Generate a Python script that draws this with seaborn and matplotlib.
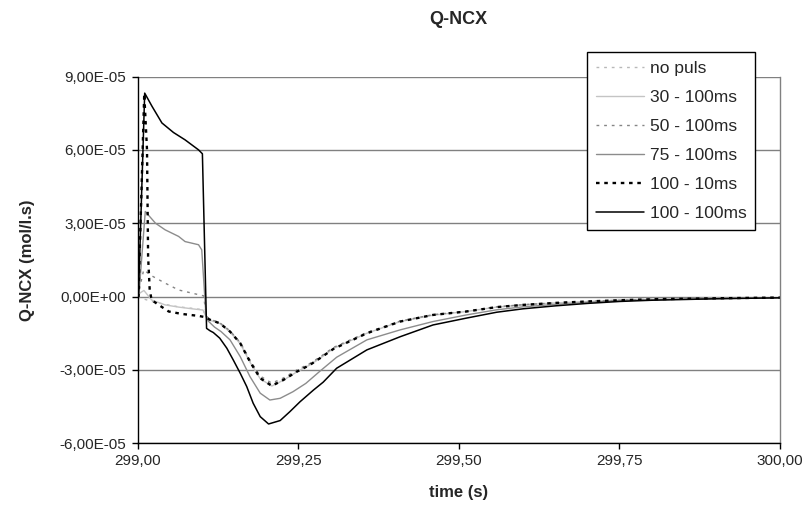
import matplotlib
matplotlib.use("Agg")
import matplotlib.pyplot as plt
import seaborn as sns
import pandas as pd
from matplotlib.ticker import FuncFormatter, MultipleLocator

# values, Q-NCX in units of 1e-5 mol/l.s
t_nopuls = [299.000, 299.004, 299.010, 299.022, 299.043, 299.064, 299.085, 299.102, 299.108,
            299.113, 299.128, 299.144, 299.160, 299.175, 299.191, 299.209, 299.227, 299.248,
            299.268, 299.284, 299.305, 299.357, 299.409, 299.460, 299.512, 299.559, 299.600,
            299.650, 299.700, 299.750, 299.800, 299.900, 300.000]
v_nopuls = [0.00, -0.05, -0.10, -0.20, -0.32, -0.42, -0.48, -0.54, -0.88,
            -0.95, -1.08, -1.42, -1.90, -2.63, -3.30, -3.60, -3.38, -3.04,
            -2.77, -2.50, -2.10, -1.48, -1.01, -0.75, -0.61, -0.43, -0.34,
            -0.26, -0.20, -0.15, -0.11, -0.07, -0.04]

t_30 = [299.000, 299.004, 299.010, 299.022, 299.043, 299.064, 299.085, 299.102, 299.108,
        299.113, 299.128, 299.144, 299.160, 299.175, 299.191, 299.209, 299.227, 299.248,
        299.268, 299.284, 299.305, 299.357, 299.409, 299.460, 299.512, 299.559, 299.600,
        299.650, 299.700, 299.750, 299.800, 299.900, 300.000]
v_30 = [0.00, 0.15, 0.25, -0.14, -0.34, -0.43, -0.50, -0.55, -0.90,
        -0.97, -1.10, -1.45, -1.93, -2.68, -3.36, -3.66, -3.42, -3.08,
        -2.80, -2.53, -2.12, -1.50, -1.02, -0.76, -0.61, -0.43, -0.34,
        -0.26, -0.20, -0.15, -0.11, -0.07, -0.04]

t_50 = [299.000, 299.003, 299.0096, 299.022, 299.043, 299.064, 299.085, 299.103, 299.107,
        299.113, 299.128, 299.144, 299.160, 299.175, 299.191, 299.209, 299.227, 299.248,
        299.268, 299.284, 299.305, 299.357, 299.409, 299.460, 299.512, 299.559, 299.600,
        299.650, 299.700, 299.750, 299.800, 299.900, 300.000]
v_50 = [0.00, 0.30, 1.09, 0.85, 0.55, 0.27, 0.14, 0.03, -0.80,
        -0.93, -1.07, -1.40, -1.88, -2.60, -3.25, -3.54, -3.33, -3.00,
        -2.74, -2.47, -2.08, -1.47, -1.00, -0.74, -0.60, -0.42, -0.33,
        -0.26, -0.20, -0.15, -0.11, -0.07, -0.04]

t_75 = [299.000, 299.002, 299.0121, 299.028, 299.043, 299.064, 299.074, 299.095, 299.100,
        299.1065, 299.110, 299.120, 299.130, 299.144, 299.160, 299.175, 299.191, 299.206,
        299.222, 299.242, 299.262, 299.284, 299.310, 299.357, 299.409, 299.460, 299.512,
        299.559, 299.600, 299.650, 299.700, 299.750, 299.800, 299.900, 300.000]
v_75 = [0.00, 0.00, 3.48, 3.00, 2.73, 2.46, 2.25, 2.12, 1.91,
        -0.75, -1.00, -1.25, -1.43, -1.77, -2.46, -3.27, -3.95, -4.23,
        -4.16, -3.89, -3.55, -3.05, -2.48, -1.77, -1.36, -1.02, -0.75,
        -0.54, -0.42, -0.32, -0.24, -0.17, -0.13, -0.08, -0.05]

t_100_10 = [299.000, 299.0015, 299.0105, 299.0148, 299.0165, 299.019, 299.022, 299.033, 299.0486,
            299.069, 299.095, 299.105, 299.113, 299.128, 299.144, 299.160, 299.175, 299.191,
            299.209, 299.227, 299.248, 299.268, 299.284, 299.305, 299.357, 299.409, 299.460,
            299.512, 299.559, 299.600, 299.650, 299.700, 299.750, 299.800, 299.900, 300.000]
v_100_10 = [0.00, 0.00, 8.30, 6.00, 1.64, 0.27, -0.14, -0.34, -0.61,
            -0.71, -0.79, -0.84, -0.95, -1.09, -1.43, -1.91, -2.66, -3.34,
            -3.65, -3.41, -3.07, -2.80, -2.52, -2.14, -1.50, -1.02, -0.75,
            -0.61, -0.43, -0.34, -0.26, -0.20, -0.15, -0.11, -0.07, -0.04]

t_100_100 = [299.000, 299.0015, 299.0112, 299.0226, 299.038, 299.056, 299.074, 299.095, 299.101,
             299.1075, 299.113, 299.118, 299.128, 299.139, 299.149, 299.160, 299.170, 299.180,
             299.191, 299.204, 299.222, 299.237, 299.253, 299.274, 299.289, 299.310, 299.357,
             299.409, 299.460, 299.512, 299.559, 299.600, 299.650, 299.700, 299.750, 299.800,
             299.900, 300.000]
v_100_100 = [0.00, 0.00, 8.32, 7.78, 7.10, 6.71, 6.41, 6.00, 5.84,
             -1.30, -1.40, -1.47, -1.70, -2.11, -2.59, -3.14, -3.68, -4.36,
             -4.91, -5.21, -5.07, -4.71, -4.30, -3.82, -3.50, -2.93, -2.18,
             -1.64, -1.16, -0.88, -0.64, -0.50, -0.38, -0.28, -0.20, -0.15,
             -0.09, -0.05]

series = [
    ("no puls", t_nopuls, v_nopuls),
    ("30 - 100ms", t_30, v_30),
    ("50 - 100ms", t_50, v_50),
    ("75 - 100ms", t_75, v_75),
    ("100 - 10ms", t_100_10, v_100_10),
    ("100 - 100ms", t_100_100, v_100_100),
]

styles = {
    "no puls": dict(color="#b8b8b8", lw=1.0, ls=(0, (2, 3.5))),
    "30 - 100ms": dict(color="#c4c4c4", lw=1.0, ls="-"),
    "50 - 100ms": dict(color="#858585", lw=1.0, ls=(0, (2, 3.5))),
    "75 - 100ms": dict(color="#8c8c8c", lw=1.0, ls="-"),
    "100 - 10ms": dict(color="black", lw=1.7, ls=(0, (1.5, 2.0))),
    "100 - 100ms": dict(color="black", lw=1.1, ls="-"),
}

sns.set_style("ticks")
plt.rcParams["font.family"] = ["Liberation Sans", "DejaVu Sans"]

fig = plt.figure(figsize=(8.11, 5.17), dpi=100)
ax = fig.add_axes([137.5 / 811, 1 - 443.3 / 517, (780 - 137.5) / 811, (443.3 - 76.5) / 517])

for name, t, v in series:
    df = pd.DataFrame({"time": t, "Q": [x * 1e-5 for x in v]})
    st = styles[name]
    sns.lineplot(data=df, x="time", y="Q", ax=ax, color=st["color"],
                 linewidth=st["lw"], linestyle=st["ls"], label=name)

ax.set_xlim(299.0, 300.0)
ax.set_ylim(-6e-5, 9e-5)
ax.xaxis.set_major_locator(MultipleLocator(0.25))
ax.yaxis.set_major_locator(MultipleLocator(3e-5))
ax.xaxis.set_major_formatter(FuncFormatter(lambda v, p: f"{v:.2f}".replace(".", ",")))
ax.yaxis.set_major_formatter(FuncFormatter(lambda v, p: f"{v:.2E}".replace(".", ",")))
ax.yaxis.get_offset_text().set_visible(False)
ax.tick_params(axis="both", direction="out", length=4, width=1, color="black",
               labelsize=11, pad=4)
ax.yaxis.grid(True, color="#808080", linewidth=1)
ax.set_axisbelow(True)
for s in ["left", "bottom"]:
    ax.spines[s].set_color("black")
    ax.spines[s].set_linewidth(1)
ax.spines["top"].set_visible(False)
ax.spines["right"].set_color("#808080")
ax.spines["right"].set_linewidth(1)

ax.set_xlabel("time (s)", fontsize=12, fontweight="bold", labelpad=12)
ax.set_ylabel("Q-NCX (mol/l.s)", fontsize=12, fontweight="bold", labelpad=18)
fig.text(458.5 / 811, 1 - 19 / 517, "Q-NCX", ha="center", va="center",
         fontsize=13, fontweight="bold")

leg = ax.legend(loc="upper left", bbox_to_anchor=(587 / 811, 1 - 52 / 517),
                bbox_transform=fig.transFigure, fontsize=12.5, frameon=True,
                fancybox=False, framealpha=1, edgecolor="black",
                handlelength=2.8, handletextpad=0.3, labelspacing=0.8,
                borderpad=0.5, borderaxespad=0)
leg.get_frame().set_linewidth(1)

fig.savefig("out.png", dpi=100)
